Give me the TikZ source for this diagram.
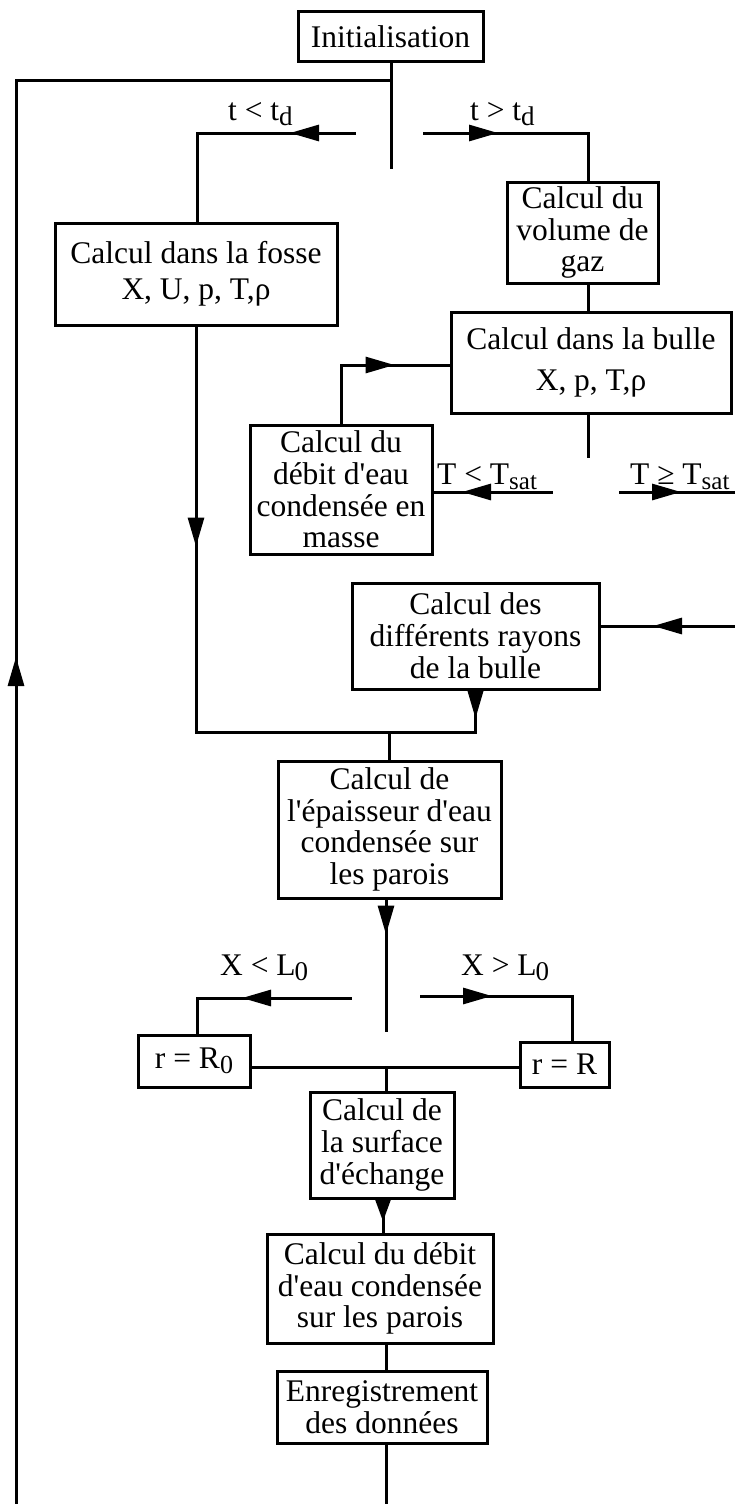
\documentclass[tikz,border=0pt]{standalone}
\usepackage{fontspec}
\setmainfont{Liberation Serif}
\usetikzlibrary{arrows.meta,decorations.markings}
\newcommand\lowsub[2][25]{\raisebox{-5pt}{\fontsize{#1}{#1}\selectfont #2}}
\newcommand\ap{\textquotesingle}
\begin{document}
\begin{tikzpicture}[x=1pt,y=-1pt,
  every node/.style={font=\fontsize{31.5}{31.8}\selectfont},
  box/.style={draw, line width=3pt, inner sep=0pt, align=center},
  conn/.style={line width=3pt, line cap=rect},
  tipat/.style={postaction={decorate,decoration={markings,mark=at position #1 with {\arrow{Triangle[length=29pt,width=16pt]}}}}},
  tipshort/.style={postaction={decorate,decoration={markings,mark=at position #1 with {\arrow{Triangle[length=22pt,width=15pt]}}}}},
  lbl/.style={anchor=base west, inner sep=0pt}
]
\fill[white] (0,0) rectangle (734,1504);
\useasboundingbox (0,0) rectangle (734,1504);

% boxes
\node[box, minimum width=185pt, minimum height=50pt] (init) at (390.5,37) {Initialisation};
\node[box, minimum width=282pt, minimum height=102pt] (fosse) at (196,274) {Calcul dans la fosse\\[4pt] X, U, p, T,ρ};
\node[box, minimum width=151pt, minimum height=101pt] (vol) at (582.5,232.5) {Calcul du\\volume de\\gaz};
\node[box, minimum width=280pt, minimum height=101pt] (bulle) at (591,362.5) {Calcul dans la bulle\\[10pt] X, p, T,ρ};
\node[box, minimum width=182pt, minimum height=129pt] (debm) at (341,489.5) {Calcul du\\débit d\ap eau\\condensée en\\masse};
\node[box, minimum width=247pt, minimum height=106pt] (rayons) at (475.5,636) {Calcul des\\différents rayons\\de la bulle};
\node[box, minimum width=223pt, minimum height=137pt] (epais) at (389.5,829.5) {Calcul de\\l\ap épaisseur d\ap eau\\condensée sur\\les parois};
\node[box, minimum width=112pt, minimum height=52pt] (rR0) at (194,1061) {r = R\lowsub[26]{0}};
\node[box, minimum width=89pt, minimum height=45pt] (rR) at (564.5,1064.5) {r = R};
\node[box, minimum width=144pt, minimum height=106pt] (surf) at (382,1145) {Calcul de\\la surface\\d\ap échange};
\node[box, minimum width=226pt, minimum height=109pt] (debp) at (380,1288.5) {Calcul du débit\\d\ap eau condensée\\sur les parois};
\node[box, minimum width=210pt, minimum height=72pt] (enreg) at (382,1407) {Enregistrement\\des données};

% labels
\node[lbl] (lt1) at (228,120) {t < t\lowsub[27]{d}};
\node[lbl] (lt2) at (470,120) {t > t\lowsub[27]{d}};
\node[lbl] (lT1) at (437,484) {T < T\lowsub{sat}};
\node[lbl] (lT2) at (630,484) {T ≥ T\lowsub{sat}};
\node[lbl] (lX1) at (220,975) {X < L\kern-1pt\lowsub[27]{0}};
\node[lbl] (lX2) at (461,975) {X > L\kern-1pt\lowsub[27]{0}};

% coordinates
\coordinate (s1) at (391,167);
\coordinate (ctop) at (391,80);
\coordinate (cleft) at (16,80);
\coordinate (cbot) at (16,1510);
\coordinate (ta) at (354,133);
\coordinate (tb) at (197,133);
\coordinate (tc) at (424,133);
\coordinate (td) at (588,133);
\coordinate (ce) at (341,365);
\coordinate (te) at (588,456);
\coordinate (tf) at (551,492);
\coordinate (tg) at (620,492);
\coordinate (th) at (740,492);
\coordinate (ti) at (740,626);
\coordinate (tj) at (475,732);
\coordinate (tl) at (389,732);
\coordinate (tm) at (386,1030);
\coordinate (tn) at (350,998);
\coordinate (to) at (197,998);
\coordinate (tp) at (421,996);
\coordinate (tq) at (572,996);
\coordinate (tr) at (386,1067);
\coordinate (ts) at (383,1200);
\coordinate (tt) at (386,1360);
\coordinate (tu) at (386,1510);

% connectors
\draw[conn] (init.south -| s1) -- (s1);
\draw[conn, tipat=853pt] (cbot) -- (cleft) -- (ctop);
\draw[conn, tipat=64pt] (ta) -- (tb) -- (tb |- fosse.north);
\draw[conn, tipat=74pt] (tc) -- (td) -- (td |- vol.north);
\draw[conn] (td |- vol.south) -- (td |- bulle.north);
\draw[conn, tipat=112pt] (debm.north) -- (ce) -- (ce -| bulle.west);
\draw[conn] (td |- bulle.south) -- (te);
\draw[conn, tipat=89pt] (tf) -- (tf -| debm.east);
\draw[conn, tipat=61pt] (tg) -- (th);
\draw[conn, tipat=87pt] (ti) -- (ti -| rayons.east);
\draw[conn, tipat=28pt] (rayons.south) -- (rayons.south |- tj);
\draw[conn, tipat=220pt] (fosse.south) -- (fosse.south |- tj) -- (rayons.south |- tj);
\draw[conn] (tl) -- (tl |- epais.north);
\draw[conn, tipat=35pt] (tm |- epais.south) -- (tm);
\draw[conn, tipat=108pt] (tn) -- (to) -- (to |- rR0.north);
\draw[conn, tipat=71pt] (tp) -- (tq) -- (tq |- rR.north);
\draw[conn] (tr -| rR0.east) -- (tr -| rR.west);
\draw[conn] (tr) -- (tr |- surf.north);
\draw[conn, tipshort=22pt] (ts |- surf.south) -- (ts |- debp.north);
\draw[conn] (tt |- debp.south) -- (tt |- enreg.north);
\draw[conn] (tu |- enreg.south) -- (tu);
\end{tikzpicture}
\end{document}
